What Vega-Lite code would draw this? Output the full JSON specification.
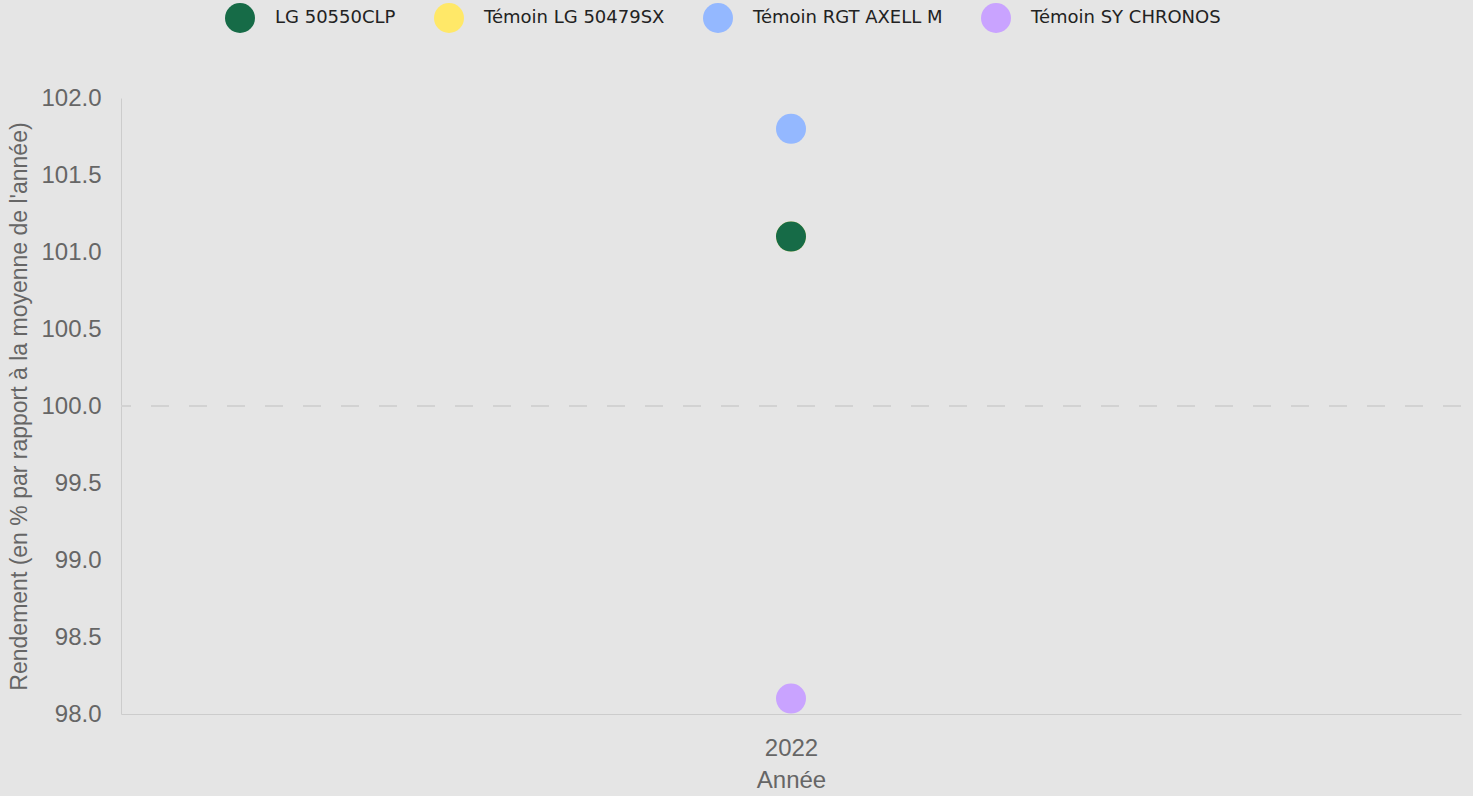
{
  "$schema": "https://vega.github.io/schema/vega-lite/v6.json",
  "width": 1340,
  "height": 616,
  "autosize": {"type": "none"},
  "padding": {"left": 121, "top": 98, "right": 12, "bottom": 82},
  "background": "#e5e5e5",
  "config": {
    "view": {"stroke": null},
    "font": "Liberation Sans"
  },
  "data": {
    "values": [
      {"annee": "2022", "variete": "Témoin LG 50479SX", "rendement": 101.1},
      {"annee": "2022", "variete": "LG 50550CLP", "rendement": 101.1},
      {"annee": "2022", "variete": "Témoin RGT AXELL M", "rendement": 101.8},
      {"annee": "2022", "variete": "Témoin SY CHRONOS", "rendement": 98.1}
    ]
  },
  "layer": [
    {
      "mark": {"type": "rule", "color": "#d2d2d2", "strokeWidth": 1.5, "strokeDash": [18, 20]},
      "encoding": {"y": {"datum": 100}}
    },
    {
      "mark": {"type": "point", "filled": true, "opacity": 1, "size": 900, "shape": "circle"},
      "encoding": {
        "x": {
          "field": "annee", "type": "nominal", "title": "Année",
          "axis": {
            "labelAngle": 0, "ticks": false, "domainColor": "#cccccc",
            "labelFontSize": 24, "labelColor": "#666666", "labelPadding": 22,
            "titleFontSize": 24, "titleColor": "#666666", "titleFontWeight": "normal", "titlePadding": 8
          }
        },
        "y": {
          "field": "rendement", "type": "quantitative",
          "title": "Rendement (en % par rapport à la moyenne de l'année)",
          "scale": {"domain": [98, 102], "zero": false, "nice": false},
          "axis": {
            "values": [98, 98.5, 99, 99.5, 100, 100.5, 101, 101.5, 102],
            "format": ".1f", "grid": false, "ticks": false, "domainColor": "#cccccc",
            "labelFontSize": 24, "labelColor": "#666666", "labelPadding": 20,
            "titleFontSize": 23, "titleColor": "#666666", "titleFontWeight": "normal", "titlePadding": 9
          }
        },
        "color": {
          "field": "variete", "type": "nominal",
          "scale": {
            "domain": ["LG 50550CLP", "Témoin LG 50479SX", "Témoin RGT AXELL M", "Témoin SY CHRONOS"],
            "range": ["#166b47", "#ffe868", "#94b8ff", "#c9a3ff"]
          },
          "legend": {
            "title": null, "orient": "none", "direction": "horizontal",
            "legendX": 104, "legendY": -95,
            "symbolType": "circle", "symbolSize": 900, "symbolStrokeWidth": 0, "symbolOpacity": 1,
            "labelFontSize": 18, "labelColor": "#222222", "labelFont": "DejaVu Sans",
            "labelOffset": 20, "columnPadding": 38, "labelLimit": 400
          }
        }
      }
    }
  ]
}
